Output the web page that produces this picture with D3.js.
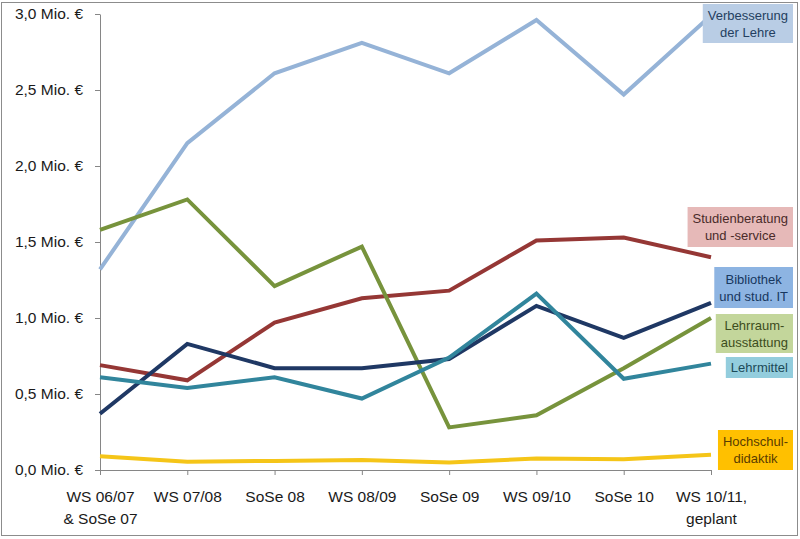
<!DOCTYPE html>
<html>
<head>
<meta charset="utf-8">
<script src="https://cdn.jsdelivr.net/npm/d3@7"></script>
<style>
  body { margin: 0; background: #fff; }
  svg { display: block; font-family: "Liberation Sans", Arial, sans-serif; }
</style>
</head>
<body>
<svg id="chart" width="800" height="539"></svg>
<script>
// categories (x axis), two lines each
var categories = ["WS 06/07|& SoSe 07", "WS 07/08", "SoSe 08", "WS 08/09", "SoSe 09", "WS 09/10", "SoSe 10", "WS 10/11,|geplant"];

// values in Mio. €
var verbesserung = [1.32, 2.15, 2.61, 2.81, 2.61, 2.96, 2.47, 2.99];
var studienberatung = [0.69, 0.59, 0.97, 1.13, 1.18, 1.51, 1.53, 1.40];
var lehrraum = [1.58, 1.78, 1.21, 1.47, 0.28, 0.36, 0.67, 1.00];
var bibliothek = [0.37, 0.83, 0.67, 0.67, 0.73, 1.08, 0.87, 1.10];
var lehrmittel = [0.61, 0.54, 0.61, 0.47, 0.74, 1.16, 0.60, 0.70];
var hochschuldidaktik = [0.09, 0.055, 0.06, 0.065, 0.05, 0.075, 0.07, 0.10];

var yTicks = [0, 0.5, 1.0, 1.5, 2.0, 2.5, 3.0];

var series = [
  { name: "Verbesserung|der Lehre", values: verbesserung, color: "#95b3d7", box: "#b9cde5", text: "#243f60", by: 4, bh: 39 },
  { name: "Studienberatung|und -service", values: studienberatung, color: "#953735", box: "#e6b9b8", text: "#4a2b2a", by: 207, bh: 40 },
  { name: "Lehrraum-|ausstattung", values: lehrraum, color: "#77933c", box: "#c3d69b", text: "#3d4d20", by: 314, bh: 39 },
  { name: "Bibliothek|und stud. IT", values: bibliothek, color: "#1f3864", box: "#8db4e2", text: "#17375e", by: 267, bh: 41 },
  { name: "Lehrmittel", values: lehrmittel, color: "#31859c", box: "#93cddd", text: "#1c4a57", by: 357, bh: 21 },
  { name: "Hochschul-|didaktik", values: hochschuldidaktik, color: "#f5c518", box: "#ffc000", text: "#5a3d00", by: 430, bh: 40 }
];

var svg = d3.select("#chart");

// outer frame
svg.append("rect")
  .attr("x", 1.5).attr("y", 2.5)
  .attr("width", 796).attr("height", 533)
  .attr("fill", "#fff")
  .attr("stroke", "#8c8c8c")
  .attr("stroke-width", 1);

var x = d3.scalePoint().domain(categories).range([100, 711]).padding(0);
var y = d3.scaleLinear().domain([0, 3]).range([470, 14]);

// y axis
var yAxis = svg.append("g")
  .attr("transform", "translate(100,0)")
  .call(d3.axisLeft(y)
    .tickValues(yTicks)
    .tickSize(5)
    .tickSizeOuter(0)
    .tickPadding(12)
    .tickFormat(function(d) { return d3.format(".1f")(d).replace(".", ",") + " Mio. €"; }));
yAxis.selectAll("path, line").attr("stroke", "#868686");
yAxis.selectAll("text").attr("font-size", 15.5).attr("fill", "#1a1a1a").attr("font-family", "inherit");

// x axis
var xAxis = svg.append("g")
  .attr("transform", "translate(0,470)")
  .call(d3.axisBottom(x).tickSize(5).tickSizeOuter(0).tickFormat(""));
xAxis.selectAll("path, line").attr("stroke", "#868686");

xAxis.selectAll(".tick").each(function(d) {
  var lines = d.split("|");
  var t = d3.select(this).append("text")
    .attr("text-anchor", "middle")
    .attr("fill", "#1a1a1a")
    .attr("font-size", 15.5)
    .attr("y", 32);
  lines.forEach(function(l, i) {
    t.append("tspan").attr("x", 0).attr("dy", i === 0 ? 0 : 22).text(l);
  });
});

// lines
var line = d3.line()
  .x(function(d, i) { return x(categories[i]); })
  .y(function(d) { return y(d); });

svg.append("g").selectAll("path")
  .data(series)
  .enter()
  .append("path")
  .attr("d", function(s) { return line(s.values); })
  .attr("fill", "none")
  .attr("stroke", function(s) { return s.color; })
  .attr("stroke-width", 4)
  .attr("stroke-linejoin", "miter");

// labels at right end
var labels = svg.append("g").selectAll("g")
  .data(series)
  .enter()
  .append("g");

labels.each(function(s) {
  var g = d3.select(this);
  var lines = s.name.split("|");
  var box = g.append("rect");
  var t = g.append("text")
    .attr("text-anchor", "middle")
    .attr("font-size", 13)
    .attr("fill", s.text);
  lines.forEach(function(l, i) {
    t.append("tspan").attr("x", 0).attr("dy", i === 0 ? 0 : 17).text(l);
  });
  var bb = t.node().getBBox();
  var w = bb.width + 10;
  var right = 793;
  var cx = right - w / 2;
  var textH = (lines.length - 1) * 17;
  t.attr("transform", "translate(" + cx + "," + (s.by + s.bh / 2 - textH / 2 + 4.5) + ")");
  box.attr("x", right - w).attr("y", s.by)
    .attr("width", w).attr("height", s.bh)
    .attr("fill", s.box);
});
</script>
</body>
</html>
